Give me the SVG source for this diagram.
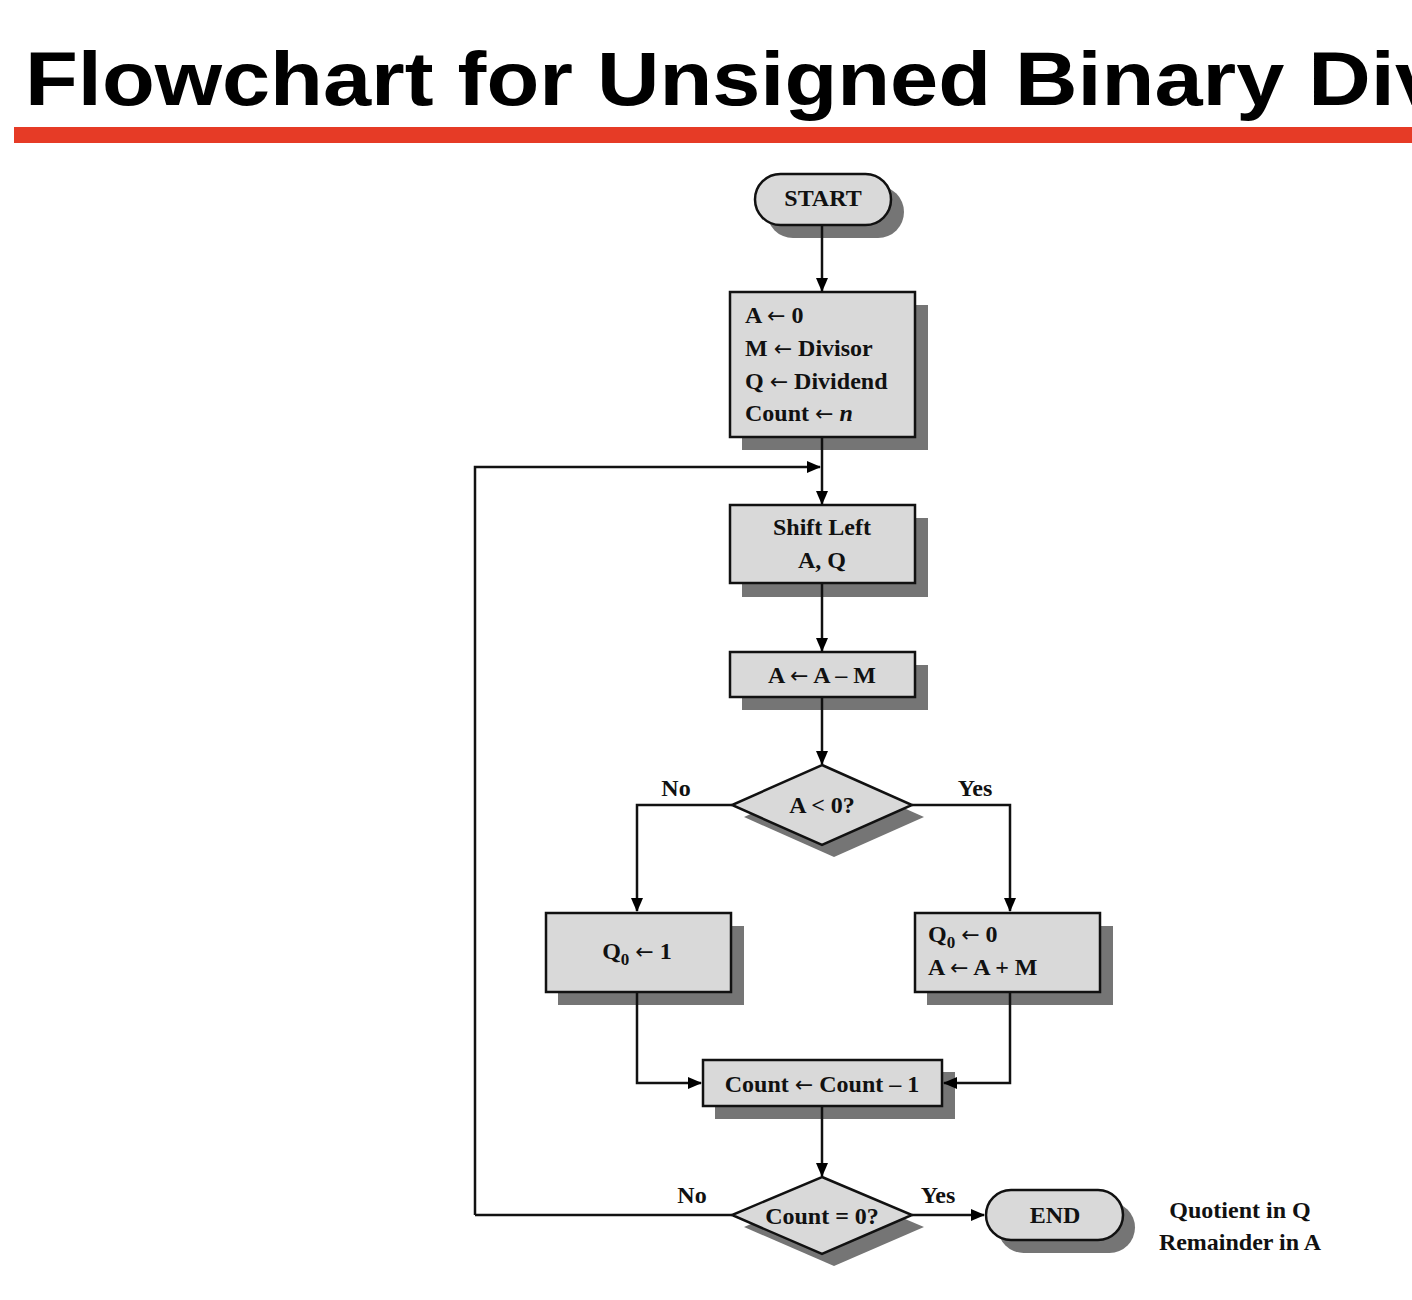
<svg xmlns="http://www.w3.org/2000/svg" width="1412" height="1300" viewBox="0 0 1412 1300">
<defs>
<marker id="ah" markerWidth="14" markerHeight="12" refX="13" refY="6" orient="auto" markerUnits="userSpaceOnUse" viewBox="0 0 14 12">
<path d="M0,0 L14,6 L0,12 z" fill="#000"/>
</marker>
<style>
.box{fill:#d9d9d9;stroke:#111;stroke-width:2.5}
.sh{fill:#757575}
.t{font-family:"Liberation Serif","Times New Roman",serif;font-weight:bold;font-size:24px;fill:#111}
.a{font-family:"DejaVu Sans",sans-serif;font-weight:normal;font-size:22px}
.c{text-anchor:middle}
.ln{fill:none;stroke:#111;stroke-width:2.5}
.ar{fill:none;stroke:#111;stroke-width:2.5;marker-end:url(#ah)}
</style>
</defs>
<rect width="1412" height="1300" fill="#fff"/>
<text x="25" y="105" font-family="Liberation Sans, Arial, sans-serif" font-weight="bold" font-size="76" textLength="1418" lengthAdjust="spacingAndGlyphs" fill="#000">Flowchart for Unsigned Binary Div</text>
<rect x="14" y="127" width="1398" height="16" fill="#e63b26"/>

<g id="start">
<rect class="sh" x="767" y="186" width="137" height="52" rx="26"/>
<rect class="box" x="755" y="174" width="136" height="51" rx="25.5"/>
<text class="t c" x="823" y="206">START</text>
</g>

<g id="init">
<rect class="sh" x="742" y="305" width="186" height="145"/>
<rect class="box" x="730" y="292" width="185" height="145"/>
<text class="t" x="745" y="323">A <tspan class="a">←</tspan> 0</text>
<text class="t" x="745" y="356">M <tspan class="a">←</tspan> Divisor</text>
<text class="t" x="745" y="389">Q <tspan class="a">←</tspan> Dividend</text>
<text class="t" x="745" y="421">Count <tspan class="a">←</tspan> <tspan font-style="italic">n</tspan></text>
</g>

<g id="shift">
<rect class="sh" x="742" y="518" width="186" height="79"/>
<rect class="box" x="730" y="505" width="185" height="78"/>
<text class="t c" x="822" y="535">Shift Left</text>
<text class="t c" x="822" y="568">A, Q</text>
</g>

<g id="sub">
<rect class="sh" x="742" y="665" width="186" height="45"/>
<rect class="box" x="730" y="652" width="185" height="45"/>
<text class="t c" x="822" y="683">A <tspan class="a">←</tspan> A – M</text>
</g>

<g id="dec1">
<polygon class="sh" points="834,777 924,817 834,857 744,817"/>
<polygon class="box" points="822,765 912,805 822,845 732,805"/>
<text class="t c" x="822" y="813">A &lt; 0?</text>
</g>

<g id="q1">
<rect class="sh" x="558" y="926" width="186" height="79"/>
<rect class="box" x="546" y="913" width="185" height="79"/>
<text class="t c" x="637" y="959">Q<tspan font-size="17" dy="6">0</tspan><tspan dy="-6"> </tspan><tspan class="a">←</tspan> 1</text>
</g>

<g id="q0">
<rect class="sh" x="927" y="926" width="186" height="79"/>
<rect class="box" x="915" y="913" width="185" height="79"/>
<text class="t" x="928" y="942">Q<tspan font-size="17" dy="6">0</tspan><tspan dy="-6"> </tspan><tspan class="a">←</tspan> 0</text>
<text class="t" x="928" y="975">A <tspan class="a">←</tspan> A + M</text>
</g>

<g id="count">
<rect class="sh" x="715" y="1072" width="240" height="47"/>
<rect class="box" x="703" y="1060" width="239" height="46"/>
<text class="t c" x="822" y="1092">Count <tspan class="a">←</tspan> Count – 1</text>
</g>

<g id="dec2">
<polygon class="sh" points="834,1189 924,1227 834,1266 744,1227"/>
<polygon class="box" points="822,1177 912,1215 822,1254 732,1215"/>
<text class="t c" x="822" y="1224">Count = 0?</text>
</g>

<g id="end">
<rect class="sh" x="998" y="1202" width="137" height="51" rx="25.5"/>
<rect class="box" x="986" y="1190" width="137" height="50" rx="25"/>
<text class="t c" x="1055" y="1223">END</text>
</g>

<g id="note">
<text class="t c" x="1240" y="1218">Quotient in Q</text>
<text class="t c" x="1240" y="1250">Remainder in A</text>
</g>

<g id="connectors">
<line class="ar" x1="822" y1="226" x2="822" y2="291"/>
<line class="ar" x1="822" y1="438" x2="822" y2="504"/>
<polyline class="ar" points="475,1215 475,467 820,467"/>
<line class="ar" x1="822" y1="584" x2="822" y2="651"/>
<line class="ar" x1="822" y1="698" x2="822" y2="764"/>
<polyline class="ar" points="732,805 637,805 637,911"/>
<polyline class="ar" points="912,805 1010,805 1010,911"/>
<polyline class="ar" points="637,993 637,1083 701,1083"/>
<polyline class="ar" points="1010,993 1010,1083 944,1083"/>
<line class="ar" x1="822" y1="1107" x2="822" y2="1176"/>
<polyline class="ln" points="732,1215 475,1215"/>
<line class="ar" x1="912" y1="1215" x2="984" y2="1215"/>
<text class="t c" x="676" y="796">No</text>
<text class="t c" x="975" y="796">Yes</text>
<text class="t c" x="692" y="1203">No</text>
<text class="t c" x="938" y="1203">Yes</text>
</g>
</svg>
